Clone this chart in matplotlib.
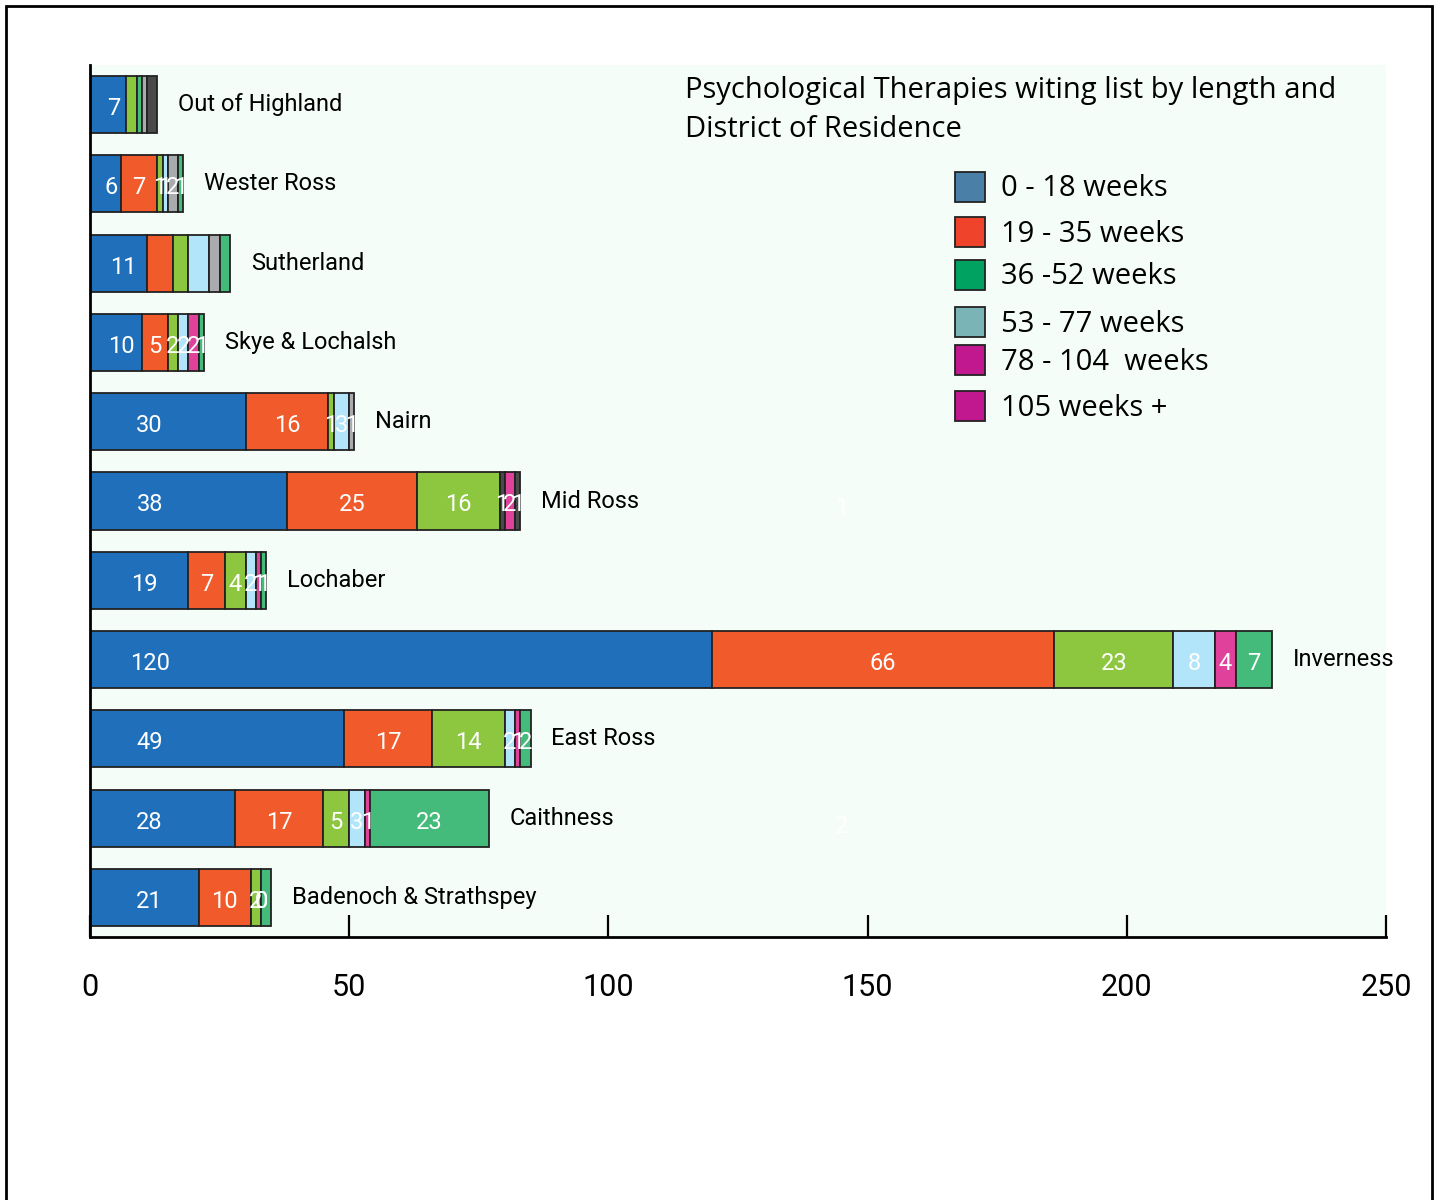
import matplotlib.pyplot as plt
from matplotlib.patches import Rectangle

# districts from top to bottom
districts = ['Out of Highland', 'Wester Ross', 'Sutherland', 'Skye & Lochalsh', 'Nairn',
             'Mid Ross', 'Lochaber', 'Inverness', 'East Ross', 'Caithness',
             'Badenoch & Strathspey']

# segments of each bar, left to right
values = [[7, 2, 1, 1, 2],
          [6, 7, 1, 1, 2, 1],
          [11, 5, 3, 4, 2, 2],
          [10, 5, 2, 2, 2, 1],
          [30, 16, 1, 3, 1],
          [38, 25, 16, 1, 2, 1],
          [19, 7, 4, 2, 1, 1],
          [120, 66, 23, 8, 4, 7],
          [49, 17, 14, 2, 1, 2],
          [28, 17, 5, 3, 1, 23],
          [21, 10, 2, 0, 0, 2]]

segment_colours = [['b', 'lg', 'g', 'gr', 'dk'],
                   ['b', 'o', 'lg', 'lb', 'gr', 'g'],
                   ['b', 'o', 'lg', 'lb', 'gr', 'g'],
                   ['b', 'o', 'lg', 'lb', 'p', 'g'],
                   ['b', 'o', 'lg', 'lb', 'gr'],
                   ['b', 'o', 'lg', 'dk', 'p', 'dk'],
                   ['b', 'o', 'lg', 'lb', 'p', 'g'],
                   ['b', 'o', 'lg', 'lb', 'p', 'g'],
                   ['b', 'o', 'lg', 'lb', 'p', 'g'],
                   ['b', 'o', 'lg', 'lb', 'p', 'g'],
                   ['b', 'o', 'lg', 'lb', 'p', 'g']]

# how many segments of each bar carry a number
n_labelled = [1, 6, 1, 6, 5, 6, 6, 6, 6, 6, 5]

palette = {'b': '#1f6fba', 'o': '#f15a2b', 'lg': '#8dc63f', 'lb': '#b3e5fa',
           'gr': '#a9abae', 'p': '#e0429b', 'dk': '#4a4a4a', 'g': '#45bb7b'}

legend_labels = ['0 - 18 weeks', '19 - 35 weeks', '36 -52 weeks', '53 - 77 weeks',
                 '78 - 104  weeks', '105 weeks +']
legend_colours = ['#4a80a8', '#f0432b', '#00a262', '#7ab4b6', '#c2188f', '#c2188f']

title = 'Psychological Therapies witing list by length and\nDistrict of Residence'
x_ticks = [0, 50, 100, 150, 200, 250]

W, H = 1440, 1200
fig = plt.figure(figsize=(W / 100, H / 100), dpi=100)
ax = fig.add_axes([90 / W, 1 - 937 / H, (1386 - 90) / W, (937 - 65) / H])
ax.set_facecolor('#f5fdf9')

for row, name in enumerate(districts):
    left = 0
    for k, (v, c) in enumerate(zip(values[row], segment_colours[row])):
        ax.barh(row, v, left=left, height=0.72, color=palette[c],
                edgecolor='#222222', linewidth=1.3)
        if k < n_labelled[row]:
            if k == 0:
                xt = min(v / 2 + 1, 11.5)
            else:
                xt = left + v / 2
            ax.text(xt, row + 0.05, str(v), color='white', fontsize=17,
                    family='Roboto', ha='center', va='center')
        left += v
    ax.text(left + 4, row, name, fontsize=17, family='Roboto', va='center', ha='left')

# stray white numbers far from the bars
ax.text(145, districts.index('Mid Ross') + 0.1, '1', color='white', fontsize=17, family='Roboto', ha='center', va='center')
ax.text(145, districts.index('Caithness') + 0.1, '2', color='white', fontsize=17, family='Roboto', ha='center', va='center')

ax.set_xlim(0, 250)
ax.set_ylim(len(districts) - 0.5, -0.5)
ax.set_xticks(x_ticks)
ax.set_yticks([])
ax.tick_params(axis='x', direction='in', length=16, width=1.6, pad=26, labelsize=22)
for t in ax.get_xticklabels():
    t.set_family('Roboto')
for s in ['top', 'right']:
    ax.spines[s].set_visible(False)
ax.spines['left'].set_linewidth(2)
ax.spines['bottom'].set_linewidth(2)

fig.text(685 / W, 1 - 76 / H, title, fontsize=21, family='Open Sans', va='top', ha='left',
         linespacing=1.45)

# legend boxes drawn by hand
legend_rows = [187, 232, 275, 322, 360, 406]
for lab, col, yy in zip(legend_labels, legend_colours, legend_rows):
    fig.patches.append(Rectangle((955 / W, 1 - (yy + 15) / H), 30 / W, 30 / H,
                                 transform=fig.transFigure, facecolor=col,
                                 edgecolor='#222222', linewidth=1.3))
    fig.text(1001 / W, 1 - (yy + 2) / H, lab, fontsize=21, family='Open Sans', va='center', ha='left')

# outer frame
fig.patches.append(Rectangle((6 / W, -0.01), (1432 - 6) / W, 1 - 6 / H + 0.01,
                             transform=fig.transFigure, fill=False,
                             edgecolor='black', linewidth=2))

fig.savefig('out.png', dpi=100)
